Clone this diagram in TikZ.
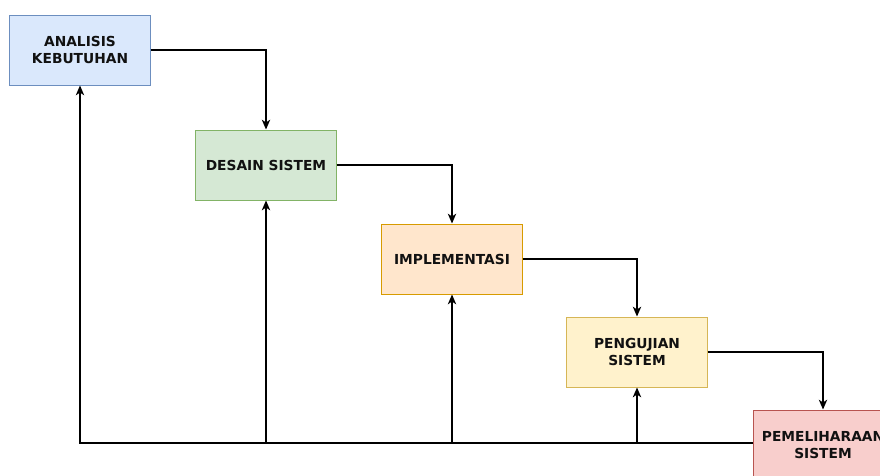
\documentclass[tikz,border=0pt]{standalone}
\usepackage{fontspec}
\setmainfont{DejaVu Sans}
\usepackage{tikz}
\usetikzlibrary{positioning, arrows.meta}
\definecolor{WFBlue}{HTML}{DAE8FC}
\definecolor{WFBlueLine}{HTML}{6C8EBF}
\definecolor{WFGreen}{HTML}{D5E8D4}
\definecolor{WFGreenLine}{HTML}{82B366}
\definecolor{WFOrange}{HTML}{FFE6CC}
\definecolor{WFOrangeLine}{HTML}{D79B00}
\definecolor{WFYellow}{HTML}{FFF2CC}
\definecolor{WFYellowLine}{HTML}{D6B656}
\definecolor{WFRed}{HTML}{F8CECC}
\definecolor{WFRedLine}{HTML}{B85450}
\definecolor{WFText}{HTML}{111111}
\begin{document}
\begin{tikzpicture}[x=0.025cm, y=-0.025cm,
          phase/.style={rectangle, minimum width=3.5cm, minimum height=1.75cm,
                        align=center, inner sep=0pt, line width=0.7pt,
                        font=\fontsize{9.8}{12}\selectfont\bfseries, text=WFText},
          arr/.style={-{Stealth[length=7pt, width=6pt, inset=2pt]},
                      draw=black, line width=0.85pt}
        ]
        \useasboundingbox (0,0) rectangle (880,475);

        % Phases of the waterfall
        \node[phase, fill=WFBlue, draw=WFBlueLine]     (ana) at (80, 50)
              {ANALISIS\\KEBUTUHAN};
        \node[phase, fill=WFGreen, draw=WFGreenLine]   (des) at (266, 165)
              {DESAIN SISTEM};
        \node[phase, fill=WFOrange, draw=WFOrangeLine] (imp) at (452, 259)
              {IMPLEMENTASI};
        \node[phase, fill=WFYellow, draw=WFYellowLine] (uji) at (637, 352)
              {PENGUJIAN\\SISTEM};
        \node[phase, fill=WFRed, draw=WFRedLine]       (pem) at (823, 445)
              {PEMELIHARAAN\\SISTEM};

        % Forward flow
        \draw[arr] (ana.east) -| (des.north);
        \draw[arr] (des.east) -| (imp.north);
        \draw[arr] (imp.east) -| (uji.north);
        \draw[arr] (uji.east) -| (pem.north);

        % Feedback
        \coordinate (fb) at ([yshift=0.05cm]pem.west);
        \draw[arr] (fb) -| (ana.south);
        \draw[arr] (des.south |- fb) -- (des.south);
        \draw[arr] (imp.south |- fb) -- (imp.south);
        \draw[arr] (uji.south |- fb) -- (uji.south);
      \end{tikzpicture}
\end{document}
